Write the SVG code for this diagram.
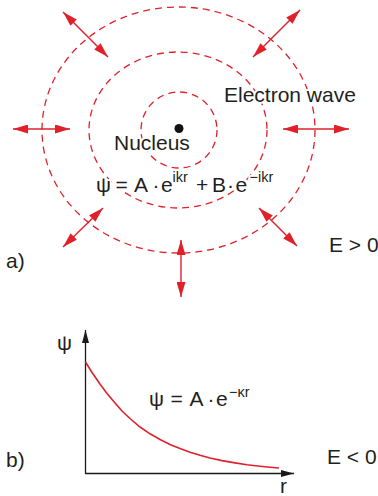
<svg xmlns="http://www.w3.org/2000/svg" width="378" height="496" viewBox="0 0 378 496">
<defs>
<marker id="rh" markerUnits="userSpaceOnUse" markerWidth="15" markerHeight="9" refX="15" refY="4.5" orient="auto-start-reverse" viewBox="0 0 15 9">
<path d="M0,0 L15,4.5 L0,9 z" fill="#e0202a"/>
</marker>
<marker id="bh" markerUnits="userSpaceOnUse" markerWidth="13" markerHeight="7" refX="13" refY="3.5" orient="auto" viewBox="0 0 13 7">
<path d="M0,0 L13,3.5 L0,7 z" fill="#1a1a1a"/>
</marker>
</defs>
<style>
.wave{fill:none;stroke:#e0202a;stroke-width:1.3;stroke-dasharray:7 5}
.arr{stroke:#e0202a;stroke-width:1.4;fill:none;marker-start:url(#rh);marker-end:url(#rh)}
.t{font-family:"Liberation Sans",Arial,sans-serif;font-size:21px;fill:#231f20}
.sup{font-size:14.5px}
.halo{stroke:#fff;stroke-width:4;paint-order:stroke;stroke-linejoin:round}
.axis{stroke:#1a1a1a;stroke-width:1.3;fill:none;marker-end:url(#bh)}
</style>
<rect width="378" height="496" fill="#fff"/>
<g id="waves">
<circle class="wave" cx="179" cy="130" r="38"/>
<ellipse class="wave" cx="178" cy="130" rx="89" ry="78"/>
<ellipse class="wave" cx="178.5" cy="130" rx="136.5" ry="123"/>
</g>
<g id="connectors">
<line class="arr" x1="63" y1="12" x2="108" y2="57"/>
<line class="arr" x1="300" y1="10" x2="253" y2="57"/>
<line class="arr" x1="13" y1="129" x2="70" y2="129"/>
<line class="arr" x1="283" y1="129" x2="349" y2="129"/>
<line class="arr" x1="103" y1="208" x2="63" y2="247"/>
<line class="arr" x1="259" y1="208" x2="297" y2="246"/>
<line class="arr" x1="181" y1="240" x2="181" y2="297"/>
</g>
<g id="nucleus">
<circle cx="179" cy="128.5" r="4.5" fill="#111"/>
<text class="t halo" x="114" y="150">Nucleus</text>
</g>
<g id="electron-wave">
<text class="t halo" x="224" y="102">Electron wave</text>
</g>
<g id="formula-a" class="t">
<g class="halo">
<text x="96" y="192">ψ</text>
<text x="115.5" y="192">=</text>
<text x="134" y="192">A</text>
<text x="152.5" y="192">·</text>
<text x="161" y="192">e</text>
<text class="sup" x="172.5" y="182">ikr</text>
<text x="196" y="192">+</text>
<text x="212" y="192">B</text>
<text x="227" y="192">·</text>
<text x="235.5" y="192">e</text>
<text class="sup" x="249.5" y="182">−ikr</text>
</g>
</g>
<g id="label-a">
<text class="t" x="6" y="268">a)</text>
<text class="t" x="329" y="252">E &gt; 0</text>
</g>
<g id="plot-b">
<line class="axis" x1="85.5" y1="473.5" x2="85.5" y2="330"/>
<line class="axis" x1="85" y1="473.5" x2="294" y2="473.5"/>
<polyline fill="none" stroke="#e0202a" stroke-width="1.6" points="85.5,362 92,372.5 100,384 107,393.5 115,403 122,411 130,418.5 140,427 150,433.8 160,439.5 170,444.5 180,448.6 190,452.3 200,455.3 210,458 222,460.6 235,462.9 247,464.8 260,466.3 270,467.3 279,468"/>
<text class="t" x="57" y="350">ψ</text>
<text class="t" x="280" y="493">r</text>
<text class="t" x="149" y="406">ψ</text>
<text class="t" x="170.5" y="406">=</text>
<text class="t" x="189.5" y="406">A</text>
<text class="t" x="207.5" y="406">·</text>
<text class="t" x="216" y="406">e</text>
<text class="t sup" x="229" y="397">−κr</text>
</g>
<g id="label-b">
<text class="t" x="6" y="467">b)</text>
<text class="t" x="327" y="464">E &lt; 0</text>
</g>
</svg>
